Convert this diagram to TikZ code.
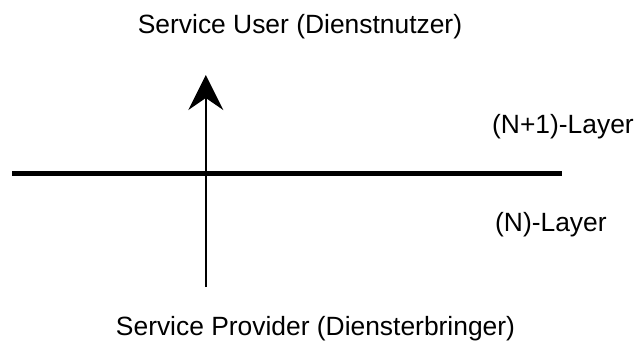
\documentclass[tikz,border=0pt]{standalone}
\usepackage{fontspec}
\setmainfont{Liberation Sans}
\usetikzlibrary{arrows.meta}
\tikzset{
	labeltext/.style={inner sep=0pt, font=\fontsize{26.4}{30}\selectfont},
	layerline/.style={line width=5.5pt},
	serviceline/.style={line width=2.3pt, -{Stealth[length=35pt,width=35pt,inset=12pt]}},
}

\begin{document}
\begin{tikzpicture}[x=1pt,y=-1pt]
	\useasboundingbox (0,0) rectangle (634,342);
	% layer boundary
	\coordinate (bleft) at (12,173.5);
	\coordinate (bright) at (562,173.5);
	\draw[layerline] (bleft) -- (bright);
	% service access
	\coordinate (sbottom) at (205.8,287);
	\coordinate (stop) at (205.8,75);
	\draw[serviceline] (sbottom) -- (stop);
	\node[labeltext, anchor=base] (user) at (300,34) {Service User (Dienstnutzer)};
	\node[labeltext, anchor=base] (provider) at (315.5,335.5) {Service Provider (Diensterbringer)};
	\node[labeltext, anchor=base west] (upper) at (492,133) {(N+1)-Layer};
	\node[labeltext, anchor=base west] (lower) at (495,231) {(N)-Layer};
\end{tikzpicture}
\end{document}
